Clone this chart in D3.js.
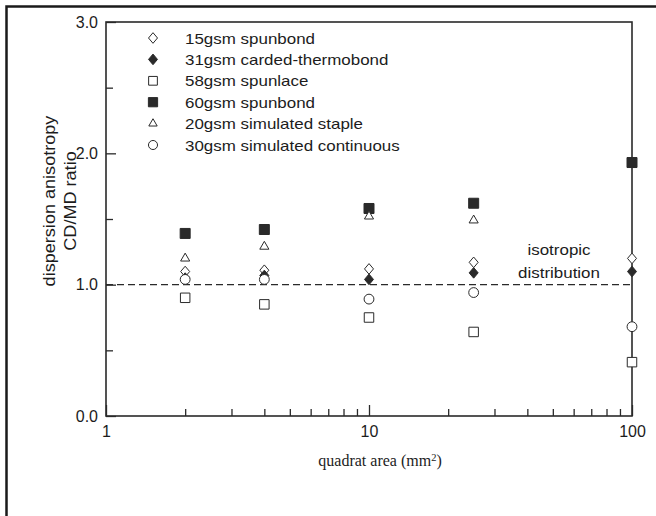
<!DOCTYPE html>
<html lang="en">
<head>
<meta charset="UTF-8">
<title>dispersion anisotropy</title>
<script src="https://cdn.jsdelivr.net/npm/d3@7"></script>
<style>
  body { margin: 0; background: #fff; }
  text { font-family: "Liberation Sans", Arial, sans-serif; fill: #1c1c1c; }
</style>
</head>
<body>
<script>
// data
var areas = [2, 4, 10, 25, 100];
var seriesNames = ["15gsm spunbond", "31gsm carded-thermobond", "58gsm spunlace",
                   "60gsm spunbond", "20gsm simulated staple", "30gsm simulated continuous"];
var spunbond15 = [1.10, 1.11, 1.12, 1.17, 1.20];
var carded31   = [1.05, 1.07, 1.04, 1.09, 1.10];
var spunlace58 = [0.90, 0.85, 0.75, 0.64, 0.41];
var spunbond60 = [1.39, 1.42, 1.58, 1.62, 1.93];
var staple20   = [1.20, 1.29, 1.52, 1.49, null];
var contin30   = [1.04, 1.04, 0.89, 0.94, 0.68];
var yTicks = [0, 1, 2, 3];
var yMinor = [0.5, 1.5, 2.5];
var xTicks = [1, 10, 100];

var ink = "#2a2a2a";
var width = 656, height = 516;
var plot = {left: 106, right: 632, top: 22, bottom: 416};

var svg = d3.select("body").append("svg").attr("width", width).attr("height", height);

// outer frame (runs off the right and bottom edge)
svg.append("rect").attr("x", 6.5).attr("y", 6.5).attr("width", 700).attr("height", 600)
  .attr("fill", "none").attr("stroke", "#1a1a1a").attr("stroke-width", 2.5);

var x = d3.scaleLog().domain([1, 100]).range([plot.left, plot.right]);
var y = d3.scaleLinear().domain([0, 3]).range([plot.bottom, plot.top]);

// symbols
var diamond = {
  draw: function (ctx, size) {
    var w = 4.5, h = 5.3;
    ctx.moveTo(0, -h); ctx.lineTo(w, 0); ctx.lineTo(0, h); ctx.lineTo(-w, 0); ctx.closePath();
  }
};
var marks = [
  {type: diamond, size: 1, fill: "#fff"},
  {type: diamond, size: 1, fill: ink},
  {type: d3.symbolSquare, size: 90, fill: "#fff"},
  {type: d3.symbolSquare, size: 100, fill: ink},
  {type: d3.symbolTriangle, size: 36, fill: "#fff"},
  {type: d3.symbolCircle, size: 76, fill: "#fff"}
];
var series = [spunbond15, carded31, spunlace58, spunbond60, staple20, contin30];

// stretched sans text (the original face is wider than Arial)
function label(parent, txt, tx, ty, size, anchor, rot) {
  var t = "translate(" + tx + "," + ty + ")" + (rot ? " rotate(" + rot + ")" : "") + " scale(1.13,1)";
  return parent.append("text").attr("transform", t).attr("font-size", size)
    .attr("text-anchor", anchor || "start").text(txt);
}

// axes: ticks point inward
var g = svg.append("g");
g.append("g").attr("transform", "translate(" + plot.left + ",0)")
  .call(d3.axisLeft(y).tickValues(yTicks).tickSize(-10).tickPadding(8).tickFormat(d3.format(".1f")))
  .call(function (a) { a.select(".domain").remove(); });
g.append("g").attr("transform", "translate(" + plot.left + ",0)")
  .call(d3.axisLeft(y).tickValues(yMinor).tickSize(-7).tickFormat(""))
  .call(function (a) { a.select(".domain").remove(); });

var xMinor = d3.range(2, 10).concat(d3.range(20, 100, 10));
g.append("g").attr("transform", "translate(0," + plot.bottom + ")")
  .call(d3.axisBottom(x).tickValues(xTicks).tickSize(-11).tickPadding(10).tickFormat(d3.format("d")))
  .call(function (a) { a.select(".domain").remove(); });
g.append("g").attr("transform", "translate(0," + plot.bottom + ")")
  .call(d3.axisBottom(x).tickValues(xMinor).tickSize(-7).tickFormat(""))
  .call(function (a) { a.select(".domain").remove(); });

g.selectAll(".tick line").attr("stroke", ink).attr("stroke-width", 1.3);
g.selectAll(".tick text").attr("font-size", 16).attr("fill", "#1c1c1c")
  .attr("font-family", "Liberation Sans, Arial, sans-serif");

// plot box
svg.append("rect").attr("x", plot.left).attr("y", plot.top)
  .attr("width", plot.right - plot.left).attr("height", plot.bottom - plot.top)
  .attr("fill", "none").attr("stroke", ink).attr("stroke-width", 1.6);

// isotropic reference line
svg.append("line").attr("x1", x(1)).attr("x2", x(100)).attr("y1", y(1)).attr("y2", y(1))
  .attr("stroke", ink).attr("stroke-width", 1.2).attr("stroke-dasharray", "7,4");
label(svg, "isotropic", 559, 255, 15, "middle");
label(svg, "distribution", 559, 278, 15, "middle");

// points
series.forEach(function (vals, i) {
  var m = marks[i];
  svg.append("g").selectAll("path")
    .data(areas.map(function (a, j) { return {a: a, v: vals[j]}; }).filter(function (d) { return d.v != null; }))
    .enter().append("path")
    .attr("transform", function (d) { return "translate(" + x(d.a) + "," + y(d.v) + ")"; })
    .attr("d", d3.symbol().type(m.type).size(m.size))
    .attr("fill", m.fill).attr("stroke", ink).attr("stroke-width", 1);
});

// legend
var lg = svg.append("g");
seriesNames.forEach(function (name, i) {
  var cy = 38 + i * 21.4;
  var m = marks[i];
  lg.append("path").attr("transform", "translate(153," + cy + ")")
    .attr("d", d3.symbol().type(m.type).size(m.size * 0.85))
    .attr("fill", m.fill).attr("stroke", ink).attr("stroke-width", 1);
  label(lg, name, 185, cy + 5.5, 15);
});

// axis titles
label(svg, "dispersion anisotropy", 55, 201, 16, "middle", -90);
label(svg, "CD/MD ratio", 76, 201, 16, "middle", -90);

var xt = svg.append("text").attr("x", 380).attr("y", 466).attr("text-anchor", "middle")
  .attr("font-size", 16).style("font-family", "'Liberation Serif', 'Times New Roman', serif");
xt.append("tspan").text("quadrat area (mm");
xt.append("tspan").attr("font-size", 10.5).attr("dy", -5).text("2");
xt.append("tspan").attr("dy", 5).text(")");
</script>
</body>
</html>
